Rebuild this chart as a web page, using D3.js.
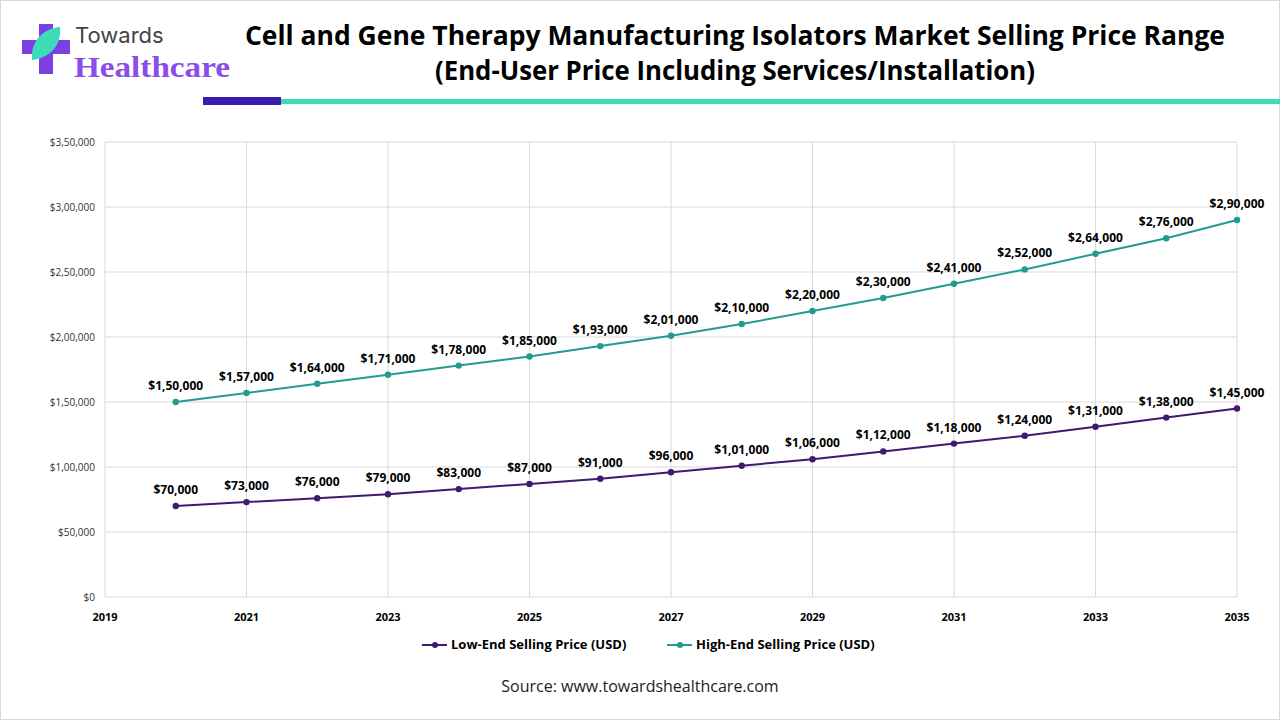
<!DOCTYPE html>
<html><head><meta charset="utf-8">
<script src="https://cdn.jsdelivr.net/npm/d3@7"></script>
<style>body{margin:0;background:#fff;font-family:"Open Sans",Lato,sans-serif}</style>
</head><body><svg id="c" width="1280" height="720"></svg>
<script>
const years = [2020,2021,2022,2023,2024,2025,2026,2027,2028,2029,2030,2031,2032,2033,2034,2035];
const lowEnd = [70000,73000,76000,79000,83000,87000,91000,96000,101000,106000,112000,118000,124000,131000,138000,145000];
const highEnd = [150000,157000,164000,171000,178000,185000,193000,201000,210000,220000,230000,241000,252000,264000,276000,290000];
const xTicks = [2019,2021,2023,2025,2027,2029,2031,2033,2035];
const yTicks = [0,50000,100000,150000,200000,250000,300000,350000];

// Indian digit grouping, e.g. $1,50,000
function inr(v){
  let s = String(v);
  if (s.length <= 3) return "$" + s;
  let last = s.slice(-3), rest = s.slice(0,-3);
  rest = rest.replace(/\B(?=(\d{2})+(?!\d))/g, ",");
  return "$" + rest + "," + last;
}

const svg = d3.select("#c");
svg.append("rect").attr("x",0.5).attr("y",0.5).attr("width",1279).attr("height",719)
  .attr("fill","none").attr("stroke","#d9d9d9");

// logo
const lg = svg.append("g");
lg.append("rect").attr("x",22).attr("y",40).attr("width",48).attr("height",14).attr("fill","#7b3fe4");
lg.append("rect").attr("x",39).attr("y",24).attr("width",14).attr("height",50).attr("fill","#7b3fe4");
lg.append("path").attr("d","M32,60 C30,40 45,28 60,27 C62,45 50,58 32,60 Z").attr("fill","#3ddbb8");
lg.append("text").attr("x",75).attr("y",43).attr("font-size",22).attr("fill","#444").attr("font-family","Inter,Lato,sans-serif").text("Towards");
lg.append("text").attr("x",74).attr("y",77).attr("font-size",30).attr("font-weight","bold").attr("fill","#8a4de8").attr("font-family","'Liberation Serif',serif").attr("textLength",156).attr("lengthAdjust","spacingAndGlyphs").text("Healthcare");

svg.append("text").attr("x",735).attr("y",45).attr("text-anchor","middle").attr("font-size",26).attr("font-weight","bold")
  .attr("textLength",980).attr("lengthAdjust","spacingAndGlyphs")
  .text("Cell and Gene Therapy Manufacturing Isolators Market Selling Price Range");
svg.append("text").attr("x",735).attr("y",80).attr("text-anchor","middle").attr("font-size",26).attr("font-weight","bold")
  .attr("textLength",600).attr("lengthAdjust","spacingAndGlyphs")
  .text("(End-User Price Including Services/Installation)");
svg.append("rect").attr("x",203).attr("y",97).attr("width",78).attr("height",8).attr("fill","#3a1db0");
svg.append("rect").attr("x",281).attr("y",99).attr("width",999).attr("height",5).attr("fill","#3ddbb8");

const x = d3.scaleLinear().domain([2019,2035]).range([105,1237]);
const y = d3.scaleLinear().domain([0,350000]).range([597,142]);

const g = svg.append("g");
g.selectAll(".hg").data(yTicks).join("line").attr("x1",105).attr("x2",1237)
  .attr("y1",d=>y(d)).attr("y2",d=>y(d)).attr("stroke","#d9d9d9");
g.selectAll(".vg").data(xTicks).join("line").attr("y1",142).attr("y2",597)
  .attr("x1",d=>x(d)).attr("x2",d=>x(d)).attr("stroke","#d9d9d9");
g.selectAll(".yl").data(yTicks).join("text").attr("x",95).attr("y",d=>y(d)+4)
  .attr("text-anchor","end").attr("font-size",10).attr("fill","#333").text(inr);
g.selectAll(".xl").data(xTicks).join("text").attr("x",d=>x(d)).attr("y",621)
  .attr("text-anchor","middle").attr("font-size",11).attr("font-weight","bold").text(d=>d);

const series = [{v:lowEnd,c:"#3f1a6e"},{v:highEnd,c:"#239b91"}];
const line = d3.line().x((d,i)=>x(years[i])).y(d=>y(d));
series.forEach(s=>{
  g.append("path").datum(s.v).attr("d",line).attr("fill","none").attr("stroke",s.c).attr("stroke-width",2);
  g.selectAll(null).data(s.v).join("circle").attr("cx",(d,i)=>x(years[i])).attr("cy",d=>y(d)).attr("r",3.2).attr("fill",s.c);
  g.selectAll(null).data(s.v).join("text").attr("x",(d,i)=>x(years[i])).attr("y",d=>y(d)-12)
    .attr("text-anchor","middle").attr("font-size",12).attr("font-weight","bold").text(inr);
});

const leg = [{t:"Low-End Selling Price (USD)",c:"#3f1a6e",x:422},{t:"High-End Selling Price (USD)",c:"#239b91",x:667}];
leg.forEach(l=>{
  svg.append("line").attr("x1",l.x).attr("x2",l.x+25).attr("y1",645).attr("y2",645).attr("stroke",l.c).attr("stroke-width",2);
  svg.append("circle").attr("cx",l.x+13).attr("cy",645).attr("r",3).attr("fill",l.c);
  svg.append("text").attr("x",l.x+29).attr("y",649).attr("font-size",13).attr("font-weight","bold").text(l.t);
});
svg.append("text").attr("x",640).attr("y",692).attr("text-anchor","middle").attr("font-size",16).attr("fill","#222")
  .text("Source: www.towardshealthcare.com");
</script></body></html>
